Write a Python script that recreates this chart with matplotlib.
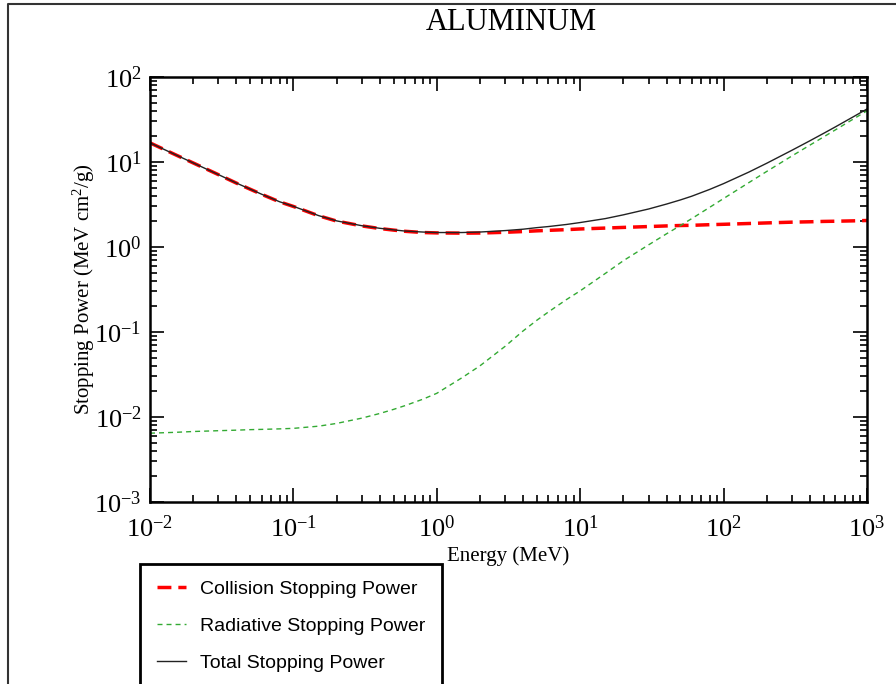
import matplotlib
matplotlib.use("Agg")
import matplotlib.pyplot as plt
from matplotlib.lines import Line2D
from matplotlib.ticker import LogLocator, LogFormatterMathtext, NullFormatter

plt.rcParams["font.family"] = "Liberation Serif"
plt.rcParams["mathtext.fontset"] = "custom"
plt.rcParams["mathtext.rm"] = "Liberation Serif"
plt.rcParams["mathtext.it"] = "Liberation Serif:italic"

# Electron stopping power in aluminum
energy = [0.01, 0.015, 0.02, 0.03, 0.04, 0.05, 0.06, 0.08, 0.1, 0.15, 0.2, 0.3, 0.4, 0.5,
          0.6, 0.8, 1.0, 1.5, 2, 3, 4, 5, 6, 8, 10, 15, 20, 30, 40, 50, 60, 80, 100,
          150, 200, 300, 400, 500, 600, 800, 1000]
collision = [16.8, 12.2, 9.75, 7.10, 5.65, 4.78, 4.17, 3.40, 3.00, 2.33, 2.02, 1.77, 1.65, 1.58,
             1.53, 1.48, 1.465, 1.455, 1.46, 1.49, 1.52, 1.55, 1.57, 1.60, 1.63, 1.67, 1.70, 1.74,
             1.77, 1.79, 1.80, 1.83, 1.85, 1.89, 1.92, 1.96, 1.98, 2.00, 2.01, 2.03, 2.05]
radiative = [6.45e-3, 6.6e-3, 6.75e-3, 6.9e-3, 7.0e-3, 7.1e-3, 7.15e-3, 7.25e-3, 7.35e-3, 7.8e-3,
             8.4e-3, 9.7e-3, 1.1e-2, 1.23e-2, 1.36e-2, 1.62e-2, 1.9e-2, 2.9e-2, 0.040, 0.068,
             0.103, 0.138, 0.172, 0.240, 0.305, 0.49, 0.69, 1.06, 1.43, 1.79, 2.16, 2.93, 3.72,
             5.72, 7.75, 11.8, 15.8, 19.8, 23.8, 31.9, 40.0]
total = [16.81, 12.21, 9.76, 7.11, 5.66, 4.79, 4.18, 3.41, 3.01, 2.34, 2.03, 1.78, 1.66, 1.59,
         1.54, 1.50, 1.48, 1.48, 1.50, 1.56, 1.62, 1.69, 1.74, 1.84, 1.94, 2.16, 2.39, 2.80,
         3.20, 3.58, 3.96, 4.76, 5.57, 7.61, 9.67, 13.76, 17.78, 21.80, 25.81, 33.93, 42.05]

fig = plt.figure(figsize=(8.96, 6.84), dpi=100)
ax = fig.add_axes([150 / 896, 1 - 502 / 684, 717 / 896, 425 / 684])

ax.plot(energy, collision, color="red", lw=2.5, dashes=(4, 2), label="Collision Stopping Power")
ax.plot(energy, radiative, color="#33aa33", lw=1.0, dashes=(3.6, 2.9), label="Radiative Stopping Power")
ax.plot(energy, total, color="#222222", lw=1.0, label="Total Stopping Power")

ax.set_xscale("log")
ax.set_yscale("log")
ax.set_xlim(1e-2, 1e3)
ax.set_ylim(1e-3, 1e2)

for axis in (ax.xaxis, ax.yaxis):
    axis.set_major_locator(LogLocator(base=10, numticks=20))
    axis.set_minor_locator(LogLocator(base=10, subs=range(2, 10), numticks=20))
    axis.set_major_formatter(LogFormatterMathtext())
    axis.set_minor_formatter(NullFormatter())

ax.tick_params(which="both", direction="in", top=True, right=True, width=1.2)
ax.tick_params(which="major", length=10, labelsize=19, pad=6)
ax.tick_params(which="minor", length=5)
ax.tick_params(axis="x", which="major", pad=10)
for s in ax.spines.values():
    s.set_linewidth(1.8)

ax.set_xlabel("Energy (MeV)", fontsize=15, labelpad=3)
ax.set_ylabel("Stopping Power (MeV cm$^2$/g)", fontsize=15, labelpad=-2)

fig.text(511 / 896, 1 - 23 / 684, "ALUMINUM", fontsize=22, ha="center", va="center")

# outer frame (top and left edges)
fig.add_artist(Line2D([8 / 896, 8 / 896, 1.0], [0.0, 1 - 4 / 684, 1 - 4 / 684],
                      transform=fig.transFigure, color="#333333", lw=1.5))

leg = fig.legend(loc="upper left", bbox_to_anchor=(140 / 896, 1 - 564 / 684), borderaxespad=0,
                 prop={"family": "Liberation Sans", "size": 14}, handlelength=1.5,
                 handletextpad=0.75, labelspacing=1.0, borderpad=0.85, fancybox=False,
                 edgecolor="black", framealpha=1)
leg.get_frame().set_linewidth(2)

fig.savefig("out.png", dpi=100)
